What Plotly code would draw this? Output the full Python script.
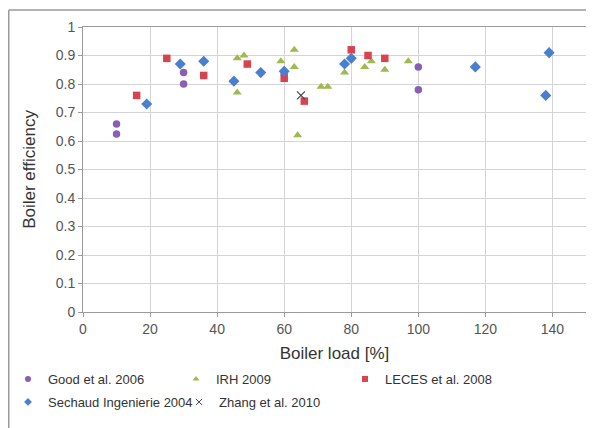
import plotly.graph_objects as go

good_x = [10, 10, 30, 30, 60, 100, 100]
good_y = [0.66, 0.625, 0.84, 0.80, 0.835, 0.86, 0.78]

irh_x = [46, 46, 48, 59, 63, 63, 64, 71, 73, 78, 84, 86, 90, 97]
irh_y = [0.89, 0.77, 0.90, 0.88, 0.92, 0.86, 0.62, 0.79, 0.79, 0.84, 0.86, 0.88, 0.85, 0.88]

leces_x = [16, 25, 36, 49, 60, 66, 80, 85, 90]
leces_y = [0.76, 0.89, 0.83, 0.87, 0.82, 0.74, 0.92, 0.90, 0.89]

sechaud_x = [19, 29, 36, 45, 53, 60, 78, 80, 117, 138, 139]
sechaud_y = [0.73, 0.87, 0.88, 0.81, 0.84, 0.845, 0.87, 0.89, 0.86, 0.76, 0.91]

zhang_x = [65]
zhang_y = [0.76]

x_ticks = [0, 20, 40, 60, 80, 100, 120, 140]
y_ticks = [0, 0.1, 0.2, 0.3, 0.4, 0.5, 0.6, 0.7, 0.8, 0.9, 1]
y_tick_labels = ["0", "0.1", "0.2", "0.3", "0.4", "0.5", "0.6", "0.7", "0.8", "0.9", "1"]

FONT = "Liberation Sans, Arial, sans-serif"

series = [
    ("Good et al. 2006", good_x, good_y, "circle", 7.5, "#8A5FB3", "legend"),
    ("IRH 2009", irh_x, irh_y, "triangle-up", 8, "#9DBA4E", "legend2"),
    ("LECES et al. 2008", leces_x, leces_y, "square", 7.5, "#D9434F", "legend3"),
    ("Sechaud Ingenierie 2004", sechaud_x, sechaud_y, "diamond", 8.5, "#4A7FD0", "legend4"),
    ("Zhang et al. 2010", zhang_x, zhang_y, "x-thin", 8, "#444444", "legend5"),
]

fig = go.Figure()
for name, xs, ys, sym, size, col, leg in series:
    line = dict(width=1.2, color=col) if sym == "x-thin" else dict(width=0)
    fig.add_trace(go.Scatter(x=xs, y=ys, mode="markers", name=name, showlegend=False,
                             marker=dict(symbol=sym, size=size, color=col, line=line)))
    # small legend swatch (legend-only entry)
    fig.add_trace(go.Scatter(x=[None], y=[None], mode="markers", name=name, legend=leg,
                             marker=dict(symbol=sym, size=6, color=col,
                                         line=dict(width=1, color=col) if sym == "x-thin" else dict(width=0))))

# page body has an 8px margin, so the figure is drawn 8px right/down
W, H = 586, 420
L, R, T, B = 75, 8, 19, 116
pw, ph = W - L - R, H - T - B

# outer chart frame (top and left edges)
fy_top = (H - B - 2) / ph
fx_left = (0.75 - L) / pw
fig.add_shape(type="line", xref="paper", yref="paper",
              x0=fx_left, x1=(W - L) / pw, y0=fy_top, y1=fy_top,
              line=dict(color="#9a9a9a", width=1.5))
fig.add_shape(type="line", xref="paper", yref="paper",
              x0=fx_left, x1=fx_left, y0=fy_top, y1=(H - B - H) / ph,
              line=dict(color="#9a9a9a", width=1.5))

def leg(xpx, ytop):
    return dict(orientation="h", xref="container", yref="container",
                x=xpx / W, y=1 - ytop / H, xanchor="left", yanchor="top",
                font=dict(family=FONT, size=13, color="#333333"),
                itemwidth=30, bgcolor="rgba(0,0,0,0)")

row1, row2 = 356, 379
fig.update_layout(
    width=W, height=H,
    margin=dict(l=L, r=R, t=T, b=B, autoexpand=False),
    paper_bgcolor="white", plot_bgcolor="white",
    font=dict(family=FONT, color="#555555", size=14),
    showlegend=True,
    legend=leg(-4, row1),
    legend2=leg(168, row1),
    legend3=leg(337, row1),
    legend4=leg(-4, row2),
    legend5=leg(171, row2),
)
fig.update_xaxes(range=[0, 150], tickvals=x_ticks, showgrid=True, gridcolor="#d4d4d4",
                 gridwidth=1, showline=True, linecolor="#9a9a9a", mirror=True,
                 ticks="outside", ticklen=4, tickcolor="#9a9a9a", zeroline=False,
                 automargin=False,
                 tickfont=dict(size=14, color="#555555"),
                 title=dict(text="Boiler load [%]", font=dict(size=17, color="#333333"), standoff=11))
fig.update_yaxes(range=[0, 1], tickvals=y_ticks, ticktext=y_tick_labels, showgrid=True,
                 gridcolor="#d4d4d4", gridwidth=1, showline=True, linecolor="#9a9a9a",
                 mirror=True, ticks="outside", ticklen=4, tickcolor="#9a9a9a", zeroline=False,
                 automargin=False,
                 tickfont=dict(size=14, color="#555555"),
                 title=dict(text="Boiler efficiency", font=dict(size=17, color="#333333"), standoff=15))

fig.write_html("out.html")
